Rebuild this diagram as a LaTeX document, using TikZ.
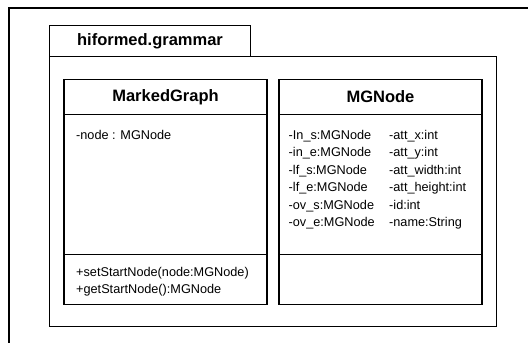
\documentclass[tikz,border=0pt]{standalone}
\usepackage{fontspec}
\setmainfont{Liberation Sans}
\usetikzlibrary{positioning}
\tikzset{box/.style={rectangle,draw=black,fill=white,line width=1.3pt,inner sep=0pt,outer sep=0pt}}
\begin{document}
\begin{tikzpicture}[x=1pt,y=-1pt,
  pkgTab/.style={box,minimum width=201pt,minimum height=31pt,font=\fontsize{16.5}{18}\selectfont\bfseries},
  pkgBody/.style={box,minimum width=447pt,minimum height=270pt},
  clsHead/.style={box,minimum width=203pt,minimum height=35pt,font=\fontsize{16.5}{18}\selectfont\bfseries},
  clsAttr/.style={box,minimum width=203pt,minimum height=140pt},
  clsOper/.style={box,minimum width=203pt,minimum height=50pt},
  members/.style={align=left,inner sep=0pt,anchor=north west,font=\fontsize{12.7}{17.4}\selectfont}]
	\useasboundingbox (0,0) rectangle (528,343);
	\coordinate (frameBL) at (9,343);
	\coordinate (frameTR) at (528,8);
	\draw[line width=1.3pt] (frameBL) |- (frameTR);
	% package
	\node[pkgTab,anchor=north west] (tab) at (49.5,25.5) {hiformed.grammar};
	\node[pkgBody,anchor=north west] (pkg) at (tab.south west) {};
	% class MarkedGraph
	\node[clsHead,anchor=north west] (mgHead) at (64,79.5) {MarkedGraph};
	\node[clsAttr,anchor=north west] (mgAttr) at (mgHead.south west) {};
	\node[clsOper,anchor=north west] (mgOper) at (mgAttr.south west) {};
	\node[members,below right=15.5pt and 12pt of mgAttr.north west] (mgAttrTxt) {-node : MGNode};
	\node[members,below right=12.5pt and 12pt of mgOper.north west] (mgOperTxt) {+setStartNode(node:MGNode)\\+getStartNode():MGNode};
	% class MGNode
	\node[clsHead,anchor=north west] (nodeHead) at (279,79.5) {MGNode};
	\node[clsAttr,anchor=north west] (nodeAttr) at (nodeHead.south west) {};
	\node[clsOper,anchor=north west] (nodeOper) at (nodeAttr.south west) {};
	\node[members,below right=15.5pt and 9.5pt of nodeAttr.north west] (nodeAttrA) {-In\_s:MGNode\\-in\_e:MGNode\\-lf\_s:MGNode\\-lf\_e:MGNode\\-ov\_s:MGNode\\-ov\_e:MGNode};
	\node[members,below right=15.5pt and 110pt of nodeAttr.north west] (nodeAttrB) {-att\_x:int\\-att\_y:int\\-att\_width:int\\-att\_height:int\\-id:int\\-name:String};
\end{tikzpicture}
\end{document}
